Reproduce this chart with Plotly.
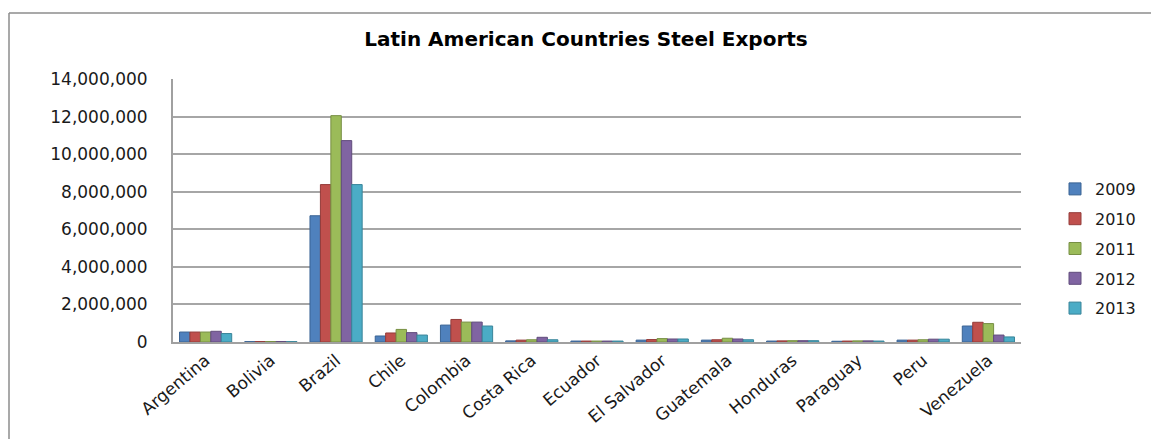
import plotly.graph_objects as go

countries = ["Argentina", "Bolivia", "Brazil", "Chile", "Colombia", "Costa Rica",
             "Ecuador", "El Salvador", "Guatemala", "Honduras", "Paraguay", "Peru", "Venezuela"]
years = ["2009", "2010", "2011", "2012", "2013"]

v2009 = [530000, 20000, 6720000, 320000, 900000, 60000, 50000, 100000, 100000, 50000, 40000, 100000, 850000]
v2010 = [530000, 25000, 8380000, 480000, 1200000, 100000, 50000, 130000, 120000, 60000, 50000, 100000, 1050000]
v2011 = [530000, 25000, 12050000, 670000, 1060000, 120000, 50000, 180000, 200000, 70000, 60000, 120000, 980000]
v2012 = [570000, 25000, 10720000, 500000, 1060000, 250000, 50000, 160000, 160000, 70000, 60000, 150000, 370000]
v2013 = [450000, 20000, 8380000, 370000, 850000, 120000, 50000, 160000, 120000, 70000, 50000, 150000, 270000]

colors = ["#4F81BD", "#C0504D", "#9BBB59", "#8064A2", "#4BACC6"]
sides = ["#3A6393", "#943C3A", "#778F44", "#614C7C", "#388499"]

fig = go.Figure()
for name, vals, c, s in zip(years, [v2009, v2010, v2011, v2012, v2013], colors, sides):
    fig.add_trace(go.Bar(x=countries, y=vals, name=name, legendgroup=name,
                         marker=dict(color=c, line=dict(color=s, width=1))))

W, H = 1151, 439
L = 173
T = 79
R = W - 1021
B = H - 342
pw, ph = W - L - R, H - T - B

def px_x(px):
    return (px - L) / pw

def px_y(py):
    return (H - B - py) / ph

frame = dict(color="#8c8c8c", width=1.5)

fig.update_layout(
    width=W, height=H,
    margin=dict(l=L, r=R, t=T, b=B, autoexpand=False),
    paper_bgcolor="white", plot_bgcolor="white",
    barmode="group", bargap=0.2, bargroupgap=0,
    font=dict(family="DejaVu Sans", size=15, color="#1a1a1a"),
    title=dict(text="<b>Latin American Countries Steel Exports</b>",
               x=586 / W, xanchor="center", y=1 - 39 / H, yanchor="middle",
               font=dict(family="DejaVu Sans", size=20, color="black")),
    legend=dict(x=px_x(1055), xanchor="left", y=px_y(172), yanchor="top",
                font=dict(family="DejaVu Sans", size=16, color="#1a1a1a"),
                tracegroupgap=6, itemwidth=30, bgcolor="rgba(0,0,0,0)"),
    xaxis=dict(tickangle=-40, showgrid=False, showline=True, linecolor="#a0a0a0",
               linewidth=2, ticks="", automargin=False,
               tickfont=dict(size=17, family="DejaVu Sans", color="#1a1a1a")),
    yaxis=dict(range=[0, 14000000], dtick=2000000, tickformat=",",
               showgrid=True, gridcolor="#a6a6a6", gridwidth=2,
               showline=True, linecolor="#a0a0a0", linewidth=2,
               ticks="", ticklabelstandoff=20, automargin=False,
               tickfont=dict(size=17, family="DejaVu Sans", color="#1a1a1a"),
               zeroline=False),
    shapes=[
        dict(type="line", xref="paper", yref="paper",
             x0=px_x(9), x1=px_x(1151), y0=px_y(13), y1=px_y(13), line=frame, layer="below"),
        dict(type="line", xref="paper", yref="paper",
             x0=px_x(9), x1=px_x(9), y0=px_y(13), y1=px_y(439), line=frame, layer="below"),
    ],
)

fig.write_html(
    "out.html",
    config={"displayModeBar": False},
    post_script="document.body.style.margin='0';document.body.style.overflow='hidden';",
)
